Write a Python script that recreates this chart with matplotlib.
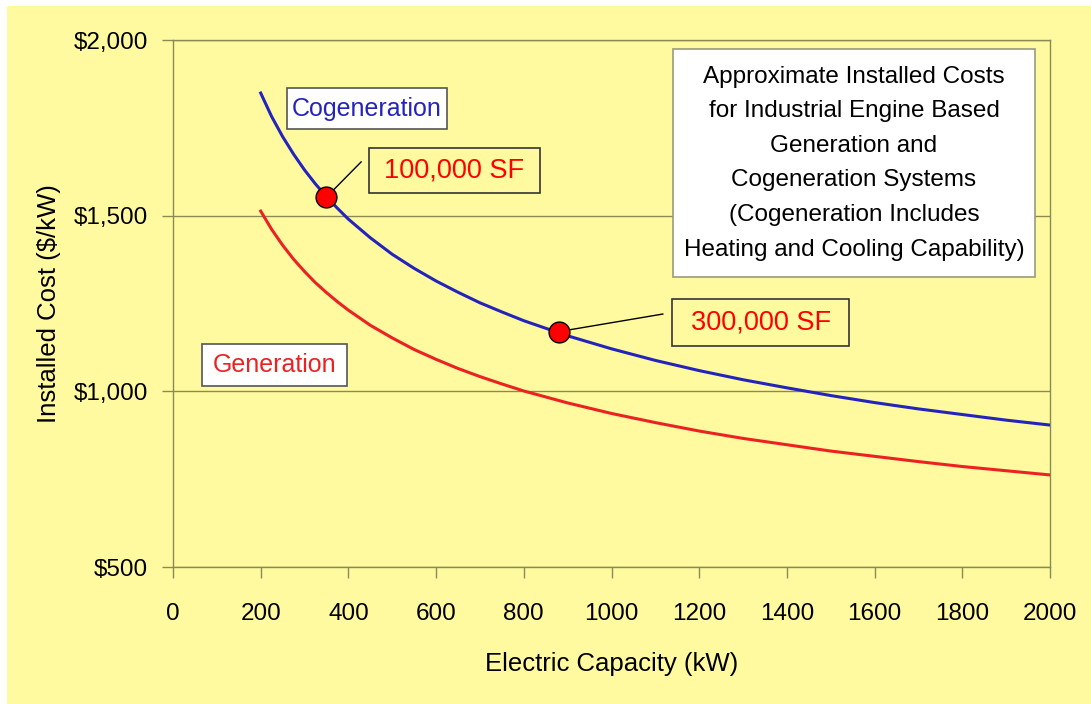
import matplotlib.pyplot as plt
from matplotlib.patches import Rectangle
from matplotlib.ticker import FuncFormatter

# installed cost curves, $/kW against electric capacity
capacity_kw = [200, 225, 250, 275, 300, 325, 350, 375, 400, 450, 500, 550, 600,
               650, 700, 750, 800, 900, 1000, 1100, 1200, 1300, 1400, 1500,
               1600, 1700, 1800, 1900, 2000]
cogen_cost = [1849, 1782, 1725, 1675, 1630, 1590, 1554, 1521, 1490, 1437, 1390,
              1350, 1314, 1282, 1252, 1226, 1201, 1158, 1121, 1088, 1059, 1033,
              1010, 988, 968, 950, 934, 918, 904]
gen_cost = [1513, 1461, 1416, 1376, 1341, 1309, 1281, 1255, 1231, 1188, 1152,
            1119, 1091, 1065, 1042, 1021, 1001, 967, 937, 911, 887, 866,
            848, 830, 815, 800, 786, 774, 762]

# building sizes marked on the cogeneration curve
site_labels = ['100,000 SF', '300,000 SF']
site_kw = [350, 880]
site_cost = [1553, 1170]

note = ('Approximate Installed Costs\nfor Industrial Engine Based\nGeneration and\n'
        'Cogeneration Systems\n(Cogeneration Includes\nHeating and Cooling Capability)')

BG = '#fffa9f'
OLIVE = '#8a8a55'
BLUE = '#2424bc'
RED = '#ec2222'


def add_box(ax, x0, y0, x1, y1, text, color, face, size, edge='#555555', **kw):
    ax.add_patch(Rectangle((x0, y0), x1 - x0, y1 - y0, facecolor=face, edgecolor=edge,
                           linewidth=1.2, zorder=5, clip_on=False))
    ax.text((x0 + x1) / 2, (y0 + y1) / 2, text, color=color, fontsize=size,
            ha='center', va='center', zorder=6, **kw)


def main():
    plt.rcParams['font.family'] = ['Liberation Sans', 'DejaVu Sans']
    fig = plt.figure(figsize=(10.91, 7.04), dpi=100, facecolor='white')
    fig.patches.append(Rectangle((7 / 1091, 0), 1, 698 / 704, facecolor=BG,
                                 edgecolor='none', transform=fig.transFigure, zorder=-10))

    ax = fig.add_axes([173 / 1091, 1 - 567 / 704, 877 / 1091, 527 / 704])
    ax.set_facecolor(BG)

    ax.plot(capacity_kw, cogen_cost, color=BLUE, lw=2.2, zorder=3)
    ax.plot(capacity_kw, gen_cost, color=RED, lw=2.2, zorder=3)

    # leader lines from the markers to the size callouts
    leader_ends = [(429, 1653), (1117, 1220)]
    for (xs, ys), (xe, ye) in zip(zip(site_kw, site_cost), leader_ends):
        ax.plot([xs, xe], [ys, ye], color='black', lw=1, zorder=4)
    ax.plot(site_kw, site_cost, 'o', color='red', markeredgecolor='black',
            markeredgewidth=1, markersize=15, zorder=7)

    add_box(ax, 447, 1565, 837, 1693, site_labels[0], 'red', BG, 19.5, edge='#333333')
    add_box(ax, 1138, 1129, 1542, 1263, site_labels[1], 'red', BG, 19.5, edge='#333333')
    add_box(ax, 260, 1747, 625, 1863, 'Cogeneration', BLUE, 'white', 18)
    add_box(ax, 66, 1015, 397, 1135, 'Generation', RED, 'white', 18)
    add_box(ax, 1140, 1325, 1966, 1974, note, 'black', 'white', 17.5, edge='#9a9a80',
            linespacing=1.74)

    ax.set_xlim(0, 2000)
    ax.set_ylim(500, 2000)
    ax.set_xticks(range(0, 2001, 200))
    ax.set_yticks([500, 1000, 1500, 2000])
    ax.yaxis.set_major_formatter(FuncFormatter(lambda v, p: '${:,.0f}'.format(v)))
    ax.yaxis.grid(True, color=OLIVE, lw=1)
    ax.set_axisbelow(True)
    for s in ax.spines.values():
        s.set_color(OLIVE)
        s.set_linewidth(1)
    ax.tick_params(axis='both', direction='out', length=8, width=1, color=OLIVE,
                   labelsize=17.5, labelcolor='black')
    ax.tick_params(axis='x', pad=18)
    ax.tick_params(axis='y', pad=10)

    ax.set_xlabel('Electric Capacity (kW)', fontsize=18.5, labelpad=19)
    ax.set_ylabel('Installed Cost ($/kW)', fontsize=18.5, labelpad=9)

    fig.savefig('out.png', dpi=100, facecolor=fig.get_facecolor())


if __name__ == '__main__':
    main()
